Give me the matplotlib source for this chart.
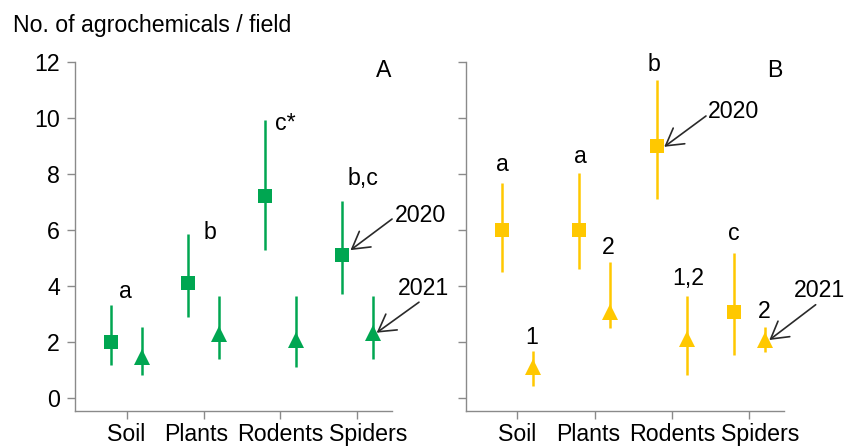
import matplotlib
matplotlib.use("Agg")
import matplotlib.pyplot as plt
from matplotlib.transforms import ScaledTranslation

plt.rcParams['font.family'] = ['Liberation Sans', 'DejaVu Sans']

# ---- data -------------------------------------------------------------
categories = ['Soil', 'Plants', 'Rodents', 'Spiders']
y_ticks = [0, 2, 4, 6, 8, 10, 12]

# Panel A (green)
a_2020_mean = [2.0, 4.1, 7.2, 5.1]
a_2020_low = [1.18, 2.89, 5.27, 3.69]
a_2020_high = [3.31, 5.83, 9.92, 7.02]
a_2021_mean = [1.45, 2.27, 2.07, 2.31]
a_2021_low = [0.80, 1.37, 1.08, 1.38]
a_2021_high = [2.54, 3.63, 3.63, 3.63]
a_2020_letters = ['a', 'b', 'c*', 'b,c']

# Panel B (yellow)
b_2020_mean = [6.0, 6.0, 9.0, 3.05]
b_2020_low = [4.5, 4.6, 7.1, 1.52]
b_2020_high = [7.65, 8.01, 11.35, 5.15]
b_2021_mean = [1.11, 3.07, 2.09, 2.07]
b_2021_low = [0.42, 2.5, 0.81, 1.63]
b_2021_high = [1.67, 4.85, 3.63, 2.54]
b_2020_letters = ['a', 'a', 'b', 'c']
b_2021_letters = ['1', '2', '1,2', '2']

# ---- style / layout ---------------------------------------------------
GREEN = '#00A651'
YELLOW = '#FFC800'
AXIS_GRAY = '#8a8a8a'
FS = 16.7
OFFSET = 0.2

fig = plt.figure(figsize=(8.44, 4.46), dpi=100)
axA = fig.add_axes([0.0889, 0.0785, 0.3756, 0.7832])
axB = fig.add_axes([0.5518, 0.0785, 0.3771, 0.7832])

fig.text(13 / 844, 1 - 31.7 / 446, 'No. of agrochemicals / field',
         fontsize=FS, va='baseline', ha='left')


def draw_series(ax, xs, mean, low, high, marker, ms, color):
    for x, m, lo, hi in zip(xs, mean, low, high):
        ax.plot([x, x], [lo, hi], color=color, lw=1.8, solid_capstyle='butt', zorder=2)
    ax.plot(xs, mean, linestyle='none', marker=marker, ms=ms, color=color,
            markeredgewidth=0, zorder=3)


def style_axes(ax, show_labels):
    pos = list(range(1, len(categories) + 1))
    ax.set_xlim(0.33, 4.45)
    ax.set_ylim(-0.475, 12)
    for s in ('top', 'right'):
        ax.spines[s].set_visible(False)
    for s in ('left', 'bottom'):
        ax.spines[s].set_color(AXIS_GRAY)
        ax.spines[s].set_linewidth(1.0)
    ax.set_xticks(pos)
    ax.set_xticklabels(categories, fontsize=FS)
    ax.set_yticks(y_ticks)
    if show_labels:
        ax.set_yticklabels([str(t) for t in y_ticks], fontsize=FS)
    else:
        ax.set_yticklabels([])
    ax.tick_params(axis='both', color=AXIS_GRAY, width=1.0, length=6)
    ax.tick_params(axis='y', pad=5)
    ax.tick_params(axis='x', pad=3)
    # nudge crowded category labels sideways
    shifts = [0, -5, 0, 8]
    for lab, dx in zip(ax.get_xticklabels(), shifts):
        lab.set_transform(lab.get_transform() +
                          ScaledTranslation(dx / 72, 0, fig.dpi_scale_trans))


def arrow(ax, tip, tail):
    ax.annotate('', xy=tip, xytext=tail,
                arrowprops=dict(arrowstyle='->,head_length=0.6,head_width=0.35',
                                color='#2a2a2a', lw=1.2, shrinkA=0, shrinkB=0,
                                mutation_scale=20))


xs = [i + 1 for i in range(len(categories))]
x20 = [x - OFFSET for x in xs]
x21 = [x + OFFSET for x in xs]

# ---- Panel A ----------------------------------------------------------
style_axes(axA, True)
draw_series(axA, x20, a_2020_mean, a_2020_low, a_2020_high, 's', 10, GREEN)
draw_series(axA, x21, a_2021_mean, a_2021_low, a_2021_high, '^', 11, GREEN)
a_letter_pos = [(0.99, 3.55), (2.08, 5.67), (3.06, 9.56), (4.07, 7.6)]
for txt, (x, y) in zip(a_2020_letters, a_letter_pos):
    axA.text(x, y, txt, fontsize=FS, ha='center', va='baseline')
axA.text(4.34, 11.44, 'A', fontsize=FS, ha='center', va='baseline')
axA.text(4.82, 6.29, '2020', fontsize=FS, ha='center', va='baseline')
axA.text(4.86, 3.67, '2021', fontsize=FS, ha='center', va='baseline')
arrow(axA, (3.91, 5.27), (4.45, 6.38))
arrow(axA, (4.25, 2.32), (4.80, 3.41))

# ---- Panel B ----------------------------------------------------------
style_axes(axB, False)
draw_series(axB, x20, b_2020_mean, b_2020_low, b_2020_high, 's', 10, YELLOW)
draw_series(axB, x21, b_2021_mean, b_2021_low, b_2021_high, '^', 11, YELLOW)
b20_pos = [(0.81, 8.11), (1.81, 8.39), (2.77, 11.68), (3.80, 5.63)]
b21_pos = [(1.18, 1.92), (2.18, 5.13), (3.21, 4.03), (4.19, 2.85)]
for txt, (x, y) in zip(b_2020_letters, b20_pos):
    axB.text(x, y, txt, fontsize=FS, ha='center', va='baseline')
for txt, (x, y) in zip(b_2021_letters, b21_pos):
    axB.text(x, y, txt, fontsize=FS, ha='center', va='baseline')
axB.text(4.33, 11.44, 'B', fontsize=FS, ha='center', va='baseline')
axB.text(3.79, 9.98, '2020', fontsize=FS, ha='center', va='baseline')
axB.text(4.91, 3.61, '2021', fontsize=FS, ha='center', va='baseline')
arrow(axB, (2.90, 8.96), (3.44, 10.06))
arrow(axB, (4.26, 2.06), (4.86, 3.32))

fig.savefig('out.png', dpi=100)
